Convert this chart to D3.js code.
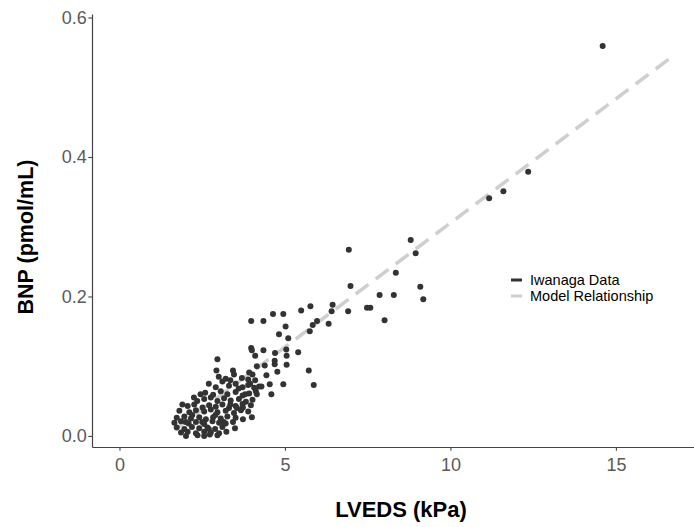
<!DOCTYPE html>
<html>
<head>
<meta charset="utf-8">
<script src="https://cdn.jsdelivr.net/npm/d3@7"></script>
<style>
  body { margin: 0; background: #fff; }
  svg { display: block; font-family: "Liberation Sans", Arial, sans-serif; }
</style>
</head>
<body>
<div id="chart"></div>
<script>
// LVEDS vs BNP scatter with model line

// Iwanaga data - LVEDS (kPa)
var lvedsX = [
  // sparse / upper points
  14.60, 12.35, 11.60, 11.17, 8.80, 8.95, 8.35, 6.93, 6.98, 7.86, 8.29, 9.09, 9.18, 7.48, 7.58, 8.01,
  6.91, 6.41, 6.44, 6.32, 5.97, 5.84, 5.75, 5.77, 5.49, 4.95, 4.64, 4.35, 3.98, 5.02, 4.82, 5.10,
  3.98, 4.00, 4.10, 4.35, 4.70, 5.04, 5.05, 5.40, 2.96,
  4.69, 4.69, 5.05, 4.39, 4.15, 4.77, 4.44, 5.72, 4.29, 4.54, 4.95, 5.87, 4.59,
  // dense cluster
  3.43, 3.92, 4.02, 2.93,
  3.21, 3.46, 3.70, 3.89, 4.10,
  2.91, 3.11, 3.31, 3.51, 3.72, 3.89, 4.07, 4.22,
  2.59, 2.83, 3.06, 3.26, 3.51, 3.72, 3.92, 4.12,
  2.56, 2.76, 2.96, 3.16, 3.36, 3.61, 3.82, 4.02, 3.72,
  2.06, 2.26, 2.51, 2.71, 2.91, 3.11, 3.31, 3.51, 3.73, 3.97,
  1.81, 2.11, 2.31, 2.56, 2.76, 2.96, 3.21, 3.46, 3.67, 3.89,
  1.73, 1.96, 2.16, 2.41, 2.61, 2.83, 3.06, 3.26, 3.51, 3.73, 4.00,
  1.66, 1.86, 2.09, 2.31, 2.56, 2.81, 3.01, 3.21, 3.43,
  1.73, 1.96, 2.19, 2.41, 2.66, 2.89, 3.11, 3.49,
  1.86, 2.06, 2.31, 2.56, 2.76, 3.01, 3.23,
  2.01, 2.36, 2.56, 2.73, 2.96,
  // extra cluster points
  2.70, 2.45, 2.35, 3.00, 3.35, 3.60, 3.80, 2.20, 2.50, 2.70,
  2.90, 3.15, 3.35, 2.00, 1.90, 2.25, 3.55, 3.95, 4.15
];
// Iwanaga data - BNP (pmol/mL)
var bnpY = [
  0.559, 0.379, 0.351, 0.341, 0.281, 0.262, 0.234, 0.267, 0.215, 0.202, 0.202, 0.214, 0.196, 0.184, 0.184, 0.166,
  0.179, 0.179, 0.188, 0.161, 0.165, 0.159, 0.150, 0.186, 0.180, 0.175, 0.175, 0.165, 0.165, 0.157, 0.146, 0.140,
  0.126, 0.123, 0.115, 0.123, 0.119, 0.124, 0.115, 0.120, 0.110,
  0.108, 0.103, 0.102, 0.101, 0.100, 0.092, 0.087, 0.094, 0.071, 0.074, 0.074, 0.073, 0.060,
  0.094, 0.091, 0.088, 0.094,
  0.082, 0.088, 0.083, 0.081, 0.080,
  0.070, 0.078, 0.072, 0.075, 0.070, 0.073, 0.069, 0.071,
  0.062, 0.059, 0.064, 0.060, 0.063, 0.058, 0.061, 0.064,
  0.053, 0.055, 0.050, 0.054, 0.051, 0.053, 0.049, 0.052, 0.046,
  0.043, 0.045, 0.041, 0.044, 0.042, 0.045, 0.040, 0.043, 0.041, 0.044,
  0.036, 0.034, 0.037, 0.035, 0.038, 0.034, 0.036, 0.033, 0.037, 0.035,
  0.026, 0.028, 0.025, 0.027, 0.024, 0.027, 0.025, 0.028, 0.026, 0.024, 0.027,
  0.019, 0.021, 0.018, 0.020, 0.017, 0.021, 0.019, 0.018, 0.020,
  0.012, 0.010, 0.013, 0.011, 0.012, 0.010, 0.013, 0.011,
  0.005, 0.006, 0.004, 0.006, 0.005, 0.004, 0.006,
  0.000, 0.001, 0.000, 0.002, 0.001,
  0.075, 0.060, 0.050, 0.085, 0.080, 0.068, 0.060, 0.030, 0.020, 0.010,
  0.030, 0.020, 0.045, 0.020, 0.045, 0.055, 0.040, 0.075, 0.060
];

// model relationship end points
var modelX = [1.70, 16.62];
var modelY = [0.010, 0.541];

var xTicks = [0, 5, 10, 15];
var yTicks = [0.0, 0.2, 0.4, 0.6];
var legendLabels = ['Iwanaga Data', 'Model Relationship'];

var width = 694, height = 527;
var plotLeft = 92, plotRight = 694, plotTop = 14, plotBottom = 447;

var svg = d3.select('#chart').append('svg')
    .attr('width', width)
    .attr('height', height);

var x = d3.scaleLinear().domain([-0.83, 17.36]).range([plotLeft, plotRight]);
var y = d3.scaleLinear().domain([-0.0158, 0.605]).range([plotBottom, plotTop]);

var points = lvedsX.map(function(d, i){ return {x: d, y: bnpY[i]}; });
var model = modelX.map(function(d, i){ return {x: d, y: modelY[i]}; });

// model line (drawn under the points)
svg.append('path')
    .datum(model)
    .attr('fill', 'none')
    .attr('stroke', '#cfcfcf')
    .attr('stroke-width', 3.5)
    .attr('stroke-dasharray', '16,9')
    .attr('d', d3.line().x(function(d){ return x(d.x); }).y(function(d){ return y(d.y); }));

svg.append('g')
    .selectAll('circle')
    .data(points)
    .enter()
    .append('circle')
    .attr('cx', function(d){ return x(d.x); })
    .attr('cy', function(d){ return y(d.y); })
    .attr('r', 3)
    .attr('fill', '#333333');

// axes
var xAxis = svg.append('g')
    .attr('transform', 'translate(0,' + plotBottom + ')')
    .call(d3.axisBottom(x).tickValues(xTicks).tickSizeInner(3.7).tickSizeOuter(0).tickPadding(8)
        .tickFormat(d3.format('d')));
var yAxis = svg.append('g')
    .attr('transform', 'translate(' + plotLeft + ',0)')
    .call(d3.axisLeft(y).tickValues(yTicks).tickSizeInner(3.7).tickSizeOuter(0).tickPadding(1.5)
        .tickFormat(d3.format('.1f')));

[xAxis, yAxis].forEach(function(a){
    a.select('.domain').attr('stroke', '#444').attr('stroke-width', 1.2);
    a.selectAll('.tick line').attr('stroke', '#444').attr('stroke-width', 1.1);
    a.selectAll('.tick text')
        .attr('fill', '#5a5a5a')
        .style('font-size', '18px')
        .style('font-family', '"Liberation Sans", Arial, sans-serif');
});

// axis titles
svg.append('text')
    .attr('x', 401)
    .attr('y', 517)
    .attr('text-anchor', 'middle')
    .style('font-size', '22px')
    .style('font-weight', 'bold')
    .attr('fill', '#000')
    .text('LVEDS (kPa)');

svg.append('text')
    .attr('transform', 'translate(33,237) rotate(-90)')
    .attr('text-anchor', 'middle')
    .style('font-size', '21.5px')
    .style('font-weight', 'bold')
    .attr('fill', '#000')
    .text('BNP (pmol/mL)');

// legend
var legend = svg.append('g')
    .attr('class', 'legend')
    .attr('transform', 'translate(511,280)');

legend.selectAll('line')
    .data(legendLabels)
    .enter()
    .append('line')
    .attr('x1', 0)
    .attr('x2', 11)
    .attr('y1', function(d, i){ return i * 16; })
    .attr('y2', function(d, i){ return i * 16; })
    .attr('stroke', function(d, i){ return i == 0 ? '#333333' : '#cfcfcf'; })
    .attr('stroke-width', 3);

legend.selectAll('text')
    .data(legendLabels)
    .enter()
    .append('text')
    .attr('x', 19)
    .attr('y', function(d, i){ return i * 16; })
    .attr('dy', '0.35em')
    .style('font-size', '14.5px')
    .attr('fill', '#000')
    .text(function(d){ return d; });
</script>
</body>
</html>
